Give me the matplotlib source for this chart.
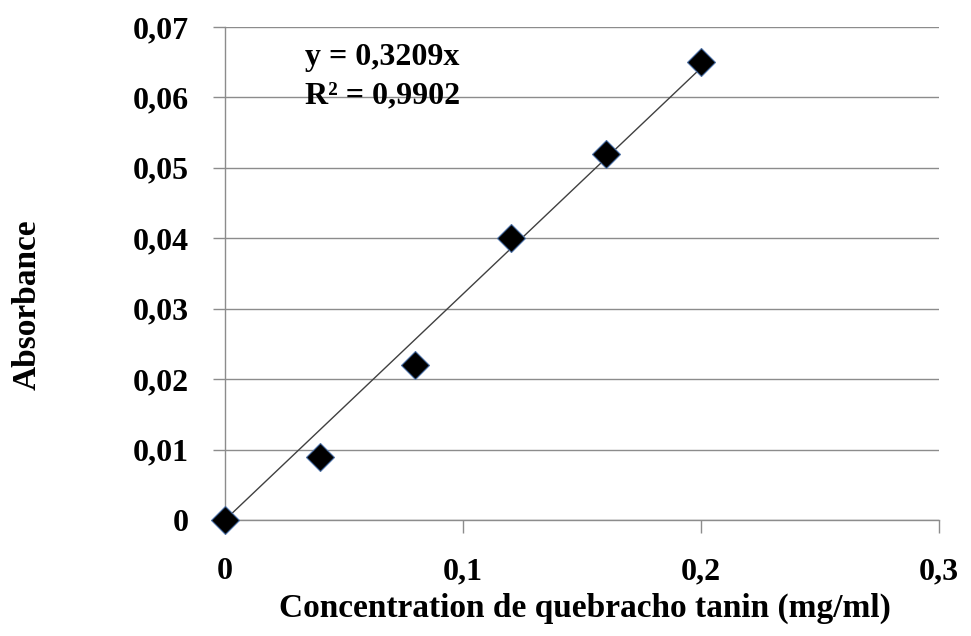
import numpy as np
import matplotlib.pyplot as plt

# Étalonnage : absorbance en fonction de la concentration de tanin de quebracho
conc = [0.0, 0.04, 0.08, 0.12, 0.16, 0.2]
absorbance = [0.0, 0.009, 0.022, 0.040, 0.052, 0.065]
slope = 0.3209
r2 = 0.9902

x_ticks = [0.0, 0.1, 0.2, 0.3]
x_ticklabels = ["0", "0,1", "0,2", "0,3"]
y_ticks = [0.0, 0.01, 0.02, 0.03, 0.04, 0.05, 0.06, 0.07]
y_ticklabels = ["0", "0,01", "0,02", "0,03", "0,04", "0,05", "0,06", "0,07"]

plt.rcParams['font.family'] = ['Liberation Serif', 'DejaVu Serif']
plt.rcParams['font.weight'] = 'bold'

grey = '#8c8c8c'

fig = plt.figure(figsize=(9.71, 6.36), dpi=100)
ax = fig.add_axes([0.2317, 0.1824, 0.7353, 0.7751])

# droite de régression forcée par l'origine
xfit = np.array([0.0, max(conc)])
ax.plot(xfit, slope * xfit, color='#404040', lw=1.0, zorder=2)
ax.plot(conc, absorbance, linestyle='none', marker='D', ms=14,
        mfc='black', mec='#4a6fa5', mew=0.8, zorder=3, clip_on=False)

ax.set_xlim(0, 0.3)
ax.set_ylim(0, 0.07)
ax.set_xticks(x_ticks)
ax.set_xticklabels(x_ticklabels)
ax.set_yticks(y_ticks)
ax.set_yticklabels(y_ticklabels)
ax.tick_params(axis='both', labelsize=23, color=grey, width=1.0, length=9,
               direction='out')
ax.tick_params(axis='x', pad=18)
ax.tick_params(axis='y', pad=17)
for lbl in ax.get_xticklabels() + ax.get_yticklabels():
    lbl.set_fontweight('bold')

ax.yaxis.grid(True, color=grey, lw=1.0)
ax.set_axisbelow(True)
for side in ('top', 'right'):
    ax.spines[side].set_visible(False)
for side in ('left', 'bottom'):
    ax.spines[side].set_color(grey)
    ax.spines[side].set_linewidth(1.0)

ax.set_xlabel("Concentration de quebracho tanin (mg/ml)", fontsize=24,
              fontweight='bold')
ax.xaxis.set_label_coords(0.504, -0.148)
ax.set_ylabel("Absorbance", fontsize=24, fontweight='bold')
ax.yaxis.set_label_coords(-0.256, 0.436)

fmt = lambda v: str(v).replace('.', ',')
ax.text(0.0336, 0.0646, "y = {}x".format(fmt(slope)), fontsize=23,
        fontweight='bold', va='baseline', ha='left')
ax.text(0.0336, 0.0591, "R² = {}".format(fmt(r2)), fontsize=23,
        fontweight='bold', va='baseline', ha='left')

fig.savefig("out.png", dpi=100)
